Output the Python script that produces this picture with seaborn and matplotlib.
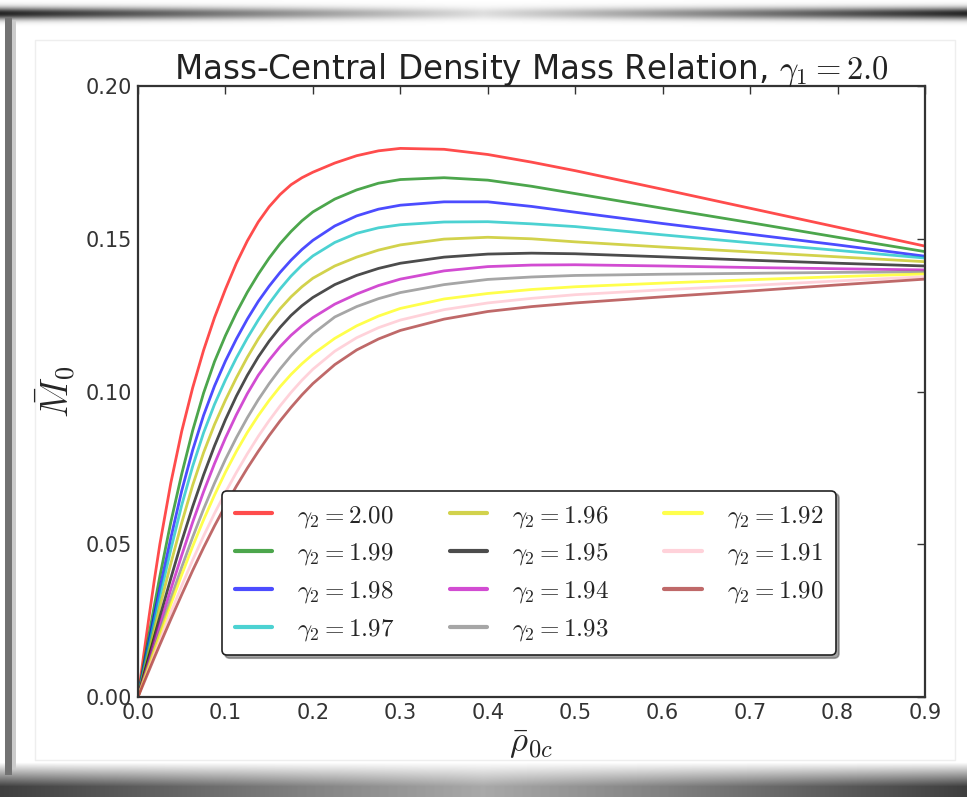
import numpy as np
import matplotlib
matplotlib.use("Agg")
from matplotlib import pyplot as plt
import seaborn as sns

# central density grid (x) and dimensionless mass for each gamma_2
rho = [0, 0.00625, 0.0125, 0.01875, 0.025, 0.0375, 0.05, 0.0625, 0.075, 0.0875,
       0.1, 0.1125, 0.125, 0.1375, 0.15, 0.1625, 0.175, 0.1875, 0.2, 0.225,
       0.25, 0.275, 0.3, 0.35, 0.4, 0.45, 0.5, 0.6, 0.7, 0.8, 0.9]

m200 = [0, 0.0132, 0.0260, 0.0384, 0.0500, 0.0700, 0.0870, 0.1012, 0.1135, 0.1242,
        0.1335, 0.1420, 0.1493, 0.1555, 0.1605, 0.1645, 0.1677, 0.1700, 0.1718, 0.1748,
        0.1772, 0.1788, 0.1796, 0.1793, 0.1776, 0.1751, 0.1723, 0.1662, 0.1600, 0.1538, 0.1476]
m199 = [0, 0.0102, 0.0202, 0.0300, 0.0395, 0.0572, 0.0730, 0.0872, 0.0995, 0.1098,
        0.1183, 0.1258, 0.1325, 0.1384, 0.1437, 0.1484, 0.1524, 0.1559, 0.1588, 0.1630,
        0.1660, 0.1682, 0.1694, 0.1700, 0.1692, 0.1672, 0.1648, 0.1600, 0.1553, 0.1505, 0.1458]
m198 = [0, 0.0092, 0.0182, 0.0270, 0.0355, 0.0520, 0.0675, 0.0808, 0.0922, 0.1018,
        0.1100, 0.1172, 0.1237, 0.1295, 0.1345, 0.1390, 0.1430, 0.1465, 0.1495, 0.1542,
        0.1575, 0.1597, 0.1610, 0.1621, 0.1621, 0.1606, 0.1587, 0.1550, 0.1515, 0.1480, 0.1443]
m197 = [0, 0.0085, 0.0168, 0.0249, 0.0328, 0.0482, 0.0628, 0.0755, 0.0865, 0.0958,
        0.1038, 0.1110, 0.1175, 0.1234, 0.1288, 0.1336, 0.1378, 0.1414, 0.1444, 0.1488,
        0.1518, 0.1536, 0.1546, 0.1555, 0.1556, 0.1549, 0.1540, 0.1513, 0.1487, 0.1462, 0.1437]
m196 = [0, 0.0076, 0.0151, 0.0224, 0.0296, 0.0436, 0.0570, 0.0693, 0.0800, 0.0892,
        0.0972, 0.1045, 0.1112, 0.1172, 0.1225, 0.1271, 0.1310, 0.1343, 0.1371, 0.1411,
        0.1440, 0.1463, 0.1480, 0.1499, 0.1505, 0.1500, 0.1490, 0.1473, 0.1457, 0.1441, 0.1425]
m195 = [0, 0.0067, 0.0133, 0.0198, 0.0262, 0.0388, 0.0510, 0.0623, 0.0727, 0.0822,
        0.0908, 0.0985, 0.1053, 0.1113, 0.1165, 0.1210, 0.1249, 0.1281, 0.1308, 0.1350,
        0.1380, 0.1403, 0.1420, 0.1440, 0.1450, 0.1453, 0.1451, 0.1441, 0.1430, 0.1420, 0.1411]
m194 = [0, 0.0060, 0.0120, 0.0179, 0.0237, 0.0352, 0.0464, 0.0572, 0.0672, 0.0764,
        0.0848, 0.0924, 0.0993, 0.1053, 0.1103, 0.1147, 0.1184, 0.1215, 0.1242, 0.1286,
        0.1319, 0.1347, 0.1368, 0.1395, 0.1409, 0.1414, 0.1415, 0.1411, 0.1406, 0.1402, 0.1398]
m193 = [0, 0.0055, 0.0110, 0.0164, 0.0217, 0.0322, 0.0425, 0.0523, 0.0615, 0.0700,
        0.0778, 0.0849, 0.0914, 0.0973, 0.1026, 0.1074, 0.1117, 0.1155, 0.1189, 0.1244,
        0.1278, 0.1304, 0.1324, 0.1350, 0.1367, 0.1375, 0.1380, 0.1384, 0.1387, 0.1390, 0.1392]
m192 = [0, 0.0052, 0.0103, 0.0154, 0.0204, 0.0303, 0.0400, 0.0493, 0.0580, 0.0661,
        0.0736, 0.0804, 0.0866, 0.0921, 0.0971, 0.1016, 0.1056, 0.1091, 0.1122, 0.1174,
        0.1215, 0.1247, 0.1272, 0.1303, 0.1321, 0.1334, 0.1343, 0.1355, 0.1366, 0.1376, 0.1385]
m191 = [0, 0.0047, 0.0094, 0.0140, 0.0186, 0.0276, 0.0364, 0.0448, 0.0527, 0.0601,
        0.0670, 0.0735, 0.0796, 0.0853, 0.0905, 0.0953, 0.0997, 0.1037, 0.1073, 0.1132,
        0.1176, 0.1209, 0.1234, 0.1268, 0.1290, 0.1305, 0.1317, 0.1333, 0.1347, 0.1362, 0.1376]
m190 = [0, 0.0043, 0.0086, 0.0129, 0.0171, 0.0254, 0.0335, 0.0414, 0.0489, 0.0560,
        0.0627, 0.0690, 0.0749, 0.0804, 0.0856, 0.0904, 0.0948, 0.0989, 0.1026, 0.1088,
        0.1136, 0.1172, 0.1200, 0.1237, 0.1262, 0.1278, 0.1290, 0.1310, 0.1329, 0.1349, 0.1368]

gammas = ["2.00", "1.99", "1.98", "1.97", "1.96", "1.95", "1.94", "1.93", "1.92", "1.91", "1.90"]
curves = [m200, m199, m198, m197, m196, m195, m194, m193, m192, m191, m190]
# old-style matplotlib single letter colours, then named ones
colors = ["#ff0000", "#008000", "#0000ff", "#00bfbf", "#bfbf00", "#000000",
          "#bf00bf", "#808080", "#ffff00", "#ffc0cb", "#a52a2a"]

sns.set_theme(style="white", color_codes=False)
plt.rcParams["font.family"] = ["DejaVu Sans"]
plt.rcParams["mathtext.fontset"] = "cm"
plt.rcParams["xtick.direction"] = "in"
plt.rcParams["ytick.direction"] = "in"

fig = plt.figure(figsize=(9.67, 7.97), dpi=100)
fig.patch.set_facecolor("white")

# screenshot frame: soft shadows at top/bottom and a dark left edge
bg = fig.add_axes([0, 0, 1, 1], zorder=-5)
bg.set_axis_off()
yy = np.arange(797)[:, None]
xx = np.linspace(0, 1, 967)[None, :]
edge_top = 0.15 + 1.7 * np.abs(xx - 0.5)
edge_bot = 0.45 + 1.1 * np.abs(xx - 0.5)
top_d = np.exp(-((yy - 13) / 6.0) ** 2)
bot_d = np.clip((yy - 762) / 24.0, 0, 1)
img = 1 - 0.85 * np.clip(top_d * edge_top, 0, 1) - 0.75 * np.clip(bot_d * edge_bot, 0, 1)
img[15:775, 5:12] = np.minimum(img[15:775, 5:12], 0.45)
img[15:775, 12:16] = np.minimum(img[15:775, 12:16], 0.8)
img = np.clip(img, 0, 1)
bg.imshow(img, cmap="gray", vmin=0, vmax=1, aspect="auto", extent=[0, 1, 0, 1])
bg.plot([0.036, 0.988, 0.988, 0.036, 0.036], [0.047, 0.047, 0.95, 0.95, 0.047],
        color="#eeeeee", lw=1, transform=bg.transAxes)

ax = fig.add_axes([0.1427, 0.1255, 0.8139, 0.7665])
ax.set_facecolor("white")

for g, vals, c in zip(gammas, curves, colors):
    sns.lineplot(x=rho, y=vals, color=c, alpha=0.7, linewidth=2,
                 label=r"$\gamma_2=%s$" % g, ax=ax)

ax.set_xlim(0, 0.9)
ax.set_ylim(0, 0.20)
ax.set_xticks(np.arange(0, 0.91, 0.1))
ax.set_yticks([0, 0.05, 0.10, 0.15, 0.20])
ax.set_xticklabels(["0.0", "0.1", "0.2", "0.3", "0.4", "0.5", "0.6", "0.7", "0.8", "0.9"])
ax.set_yticklabels(["0.00", "0.05", "0.10", "0.15", "0.20"])
ax.tick_params(axis="both", which="both", top=True, right=True, length=6,
               width=1, color="#333333", labelsize=15, labelcolor="#333333", pad=4)
for s in ax.spines.values():
    s.set_color("#333333")
    s.set_linewidth(1.6)

ax.set_title(r"Mass-Central Density Mass Relation, $\gamma_1=2.0$", fontsize=23.5,
             color="#222222", pad=5)
ax.set_xlabel(r"$\bar{\rho}_{0c}$", fontsize=25, labelpad=3)
ax.set_ylabel(r"$\bar{M}_0$", fontsize=27, labelpad=6)

leg = ax.legend(ncol=3, loc="lower center", bbox_to_anchor=(0.497, 0.068),
                fontsize=18, fancybox=True, shadow=True, frameon=True,
                handlelength=1.5, handletextpad=1.0, columnspacing=2.2,
                labelspacing=0.45, borderpad=0.5, borderaxespad=0)
leg.get_frame().set_edgecolor("#222222")
leg.get_frame().set_linewidth(1.2)
leg.get_frame().set_alpha(1)
for line in leg.get_lines():
    line.set_linewidth(3)

fig.savefig("out.png", dpi=100, facecolor=fig.get_facecolor())
